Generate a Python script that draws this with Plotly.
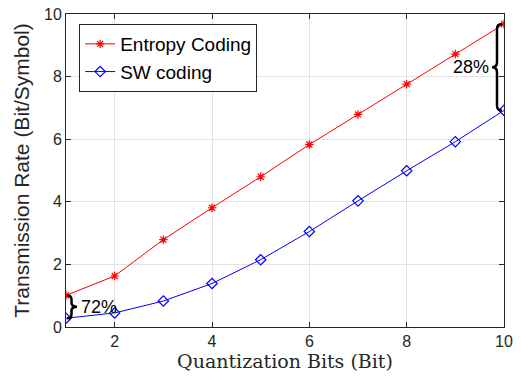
import plotly.graph_objects as go

bits = [1, 2, 3, 4, 5, 6, 7, 8, 9, 10]
entropy_rate = [1.01, 1.63, 2.79, 3.81, 4.80, 5.83, 6.79, 7.76, 8.72, 9.68]
sw_rate = [0.28, 0.45, 0.83, 1.39, 2.15, 3.05, 4.03, 4.99, 5.92, 6.92]
x_ticks = [2, 4, 6, 8, 10]
y_ticks = [0, 2, 4, 6, 8, 10]
pct_low = "72%"
pct_high = "28%"

W, H = 521, 381
ml, mr, mt, mb = 66, 17, 14, 54
x_rng = [1, 10]
y_rng = [0, 10]
pxx = (x_rng[1] - x_rng[0]) / (W - ml - mr)  # data per px in x
pxy = (y_rng[1] - y_rng[0]) / (H - mt - mb)  # data per px in y

SANS = "Liberation Sans, Arial, sans-serif"

fig = go.Figure()
fig.add_trace(go.Scatter(x=bits, y=entropy_rate, mode="lines+markers", name="Entropy Coding",
                         line=dict(color="#ff0000", width=1),
                         marker=dict(symbol="asterisk-open", size=7, color="#ff0000",
                                     line=dict(color="#ff0000", width=1.2))))
fig.add_trace(go.Scatter(x=bits, y=sw_rate, mode="lines+markers", name="SW coding",
                         line=dict(color="#0000ff", width=1),
                         marker=dict(symbol="diamond-open", size=8, color="#0000ff",
                                     line=dict(color="#0000ff", width=1.2))))


def brace(x0, yt, yb, dirn, xv_px, xt_px, d_px):
    xv = x0 + dirn * xv_px * pxx
    xt = x0 + dirn * xt_px * pxx
    d = d_px * pxy
    ym = (yt + yb) / 2
    return (f"M {x0},{yt} Q {xv},{yt} {xv},{yt - d} L {xv},{ym + d} "
            f"Q {xv},{ym} {xt},{ym} Q {xv},{ym} {xv},{ym - d} "
            f"L {xv},{yb + d} Q {xv},{yb} {x0},{yb}")


shapes = [
    dict(type="path", xref="x", yref="y",
         path=brace(bits[0] + 1 * pxx, entropy_rate[0], sw_rate[0], 1, 4.5, 10, 4),
         line=dict(color="black", width=2.5)),
    dict(type="path", xref="x", yref="y",
         path=brace(bits[-1] - 2 * pxx, entropy_rate[-1], sw_rate[-1], -1, 5, 10, 5),
         line=dict(color="black", width=2.5)),
]

annotations = [
    dict(x=bits[0] + 13 * pxx, y=(entropy_rate[0] + sw_rate[0]) / 2, xref="x", yref="y",
         text=pct_low, showarrow=False, xanchor="left", yanchor="middle",
         font=dict(size=18, color="black", family=SANS)),
    dict(x=bits[-1] - 13 * pxx, y=(entropy_rate[-1] + sw_rate[-1]) / 2, xref="x", yref="y",
         text=pct_high, showarrow=False, xanchor="right", yanchor="middle",
         font=dict(size=18, color="black", family=SANS)),
]

axis_common = dict(showline=True, linecolor="#262626", linewidth=1, mirror="ticks",
                   ticks="inside", ticklen=5, tickcolor="#262626", automargin=False,
                   ticklabeloverflow="allow",
                   showgrid=True, gridcolor="#e3e3e3", gridwidth=1, zeroline=False,
                   tickfont=dict(size=16, color="#262626", family=SANS))

fig.update_layout(
    width=W, height=H,
    margin=dict(l=ml, r=mr, t=mt, b=mb),
    paper_bgcolor="white", plot_bgcolor="white",
    xaxis=dict(range=x_rng, tickvals=x_ticks,
               title=dict(text="Quantization Bits (Bit)", standoff=2,
                          font=dict(size=19, color="#262626", family="DejaVu Serif, serif")),
               **axis_common),
    yaxis=dict(range=y_rng, tickvals=y_ticks,
               title=dict(text="Transmission Rate (Bit/Symbol)", standoff=8,
                          font=dict(size=21, color="#262626", family=SANS)),
               **axis_common),
    legend=dict(x=0.03, y=0.968, xanchor="left", yanchor="top",
                bgcolor="white", bordercolor="#262626", borderwidth=1,
                font=dict(size=19, color="black", family=SANS),
                tracegroupgap=0, itemwidth=30),
    shapes=shapes, annotations=annotations,
    showlegend=True,
)

# remove the page's default body margin so the figure fills the window exactly
fig.write_html("out.html", config={"displayModeBar": False},
               post_script="document.body.style.margin='0';")
